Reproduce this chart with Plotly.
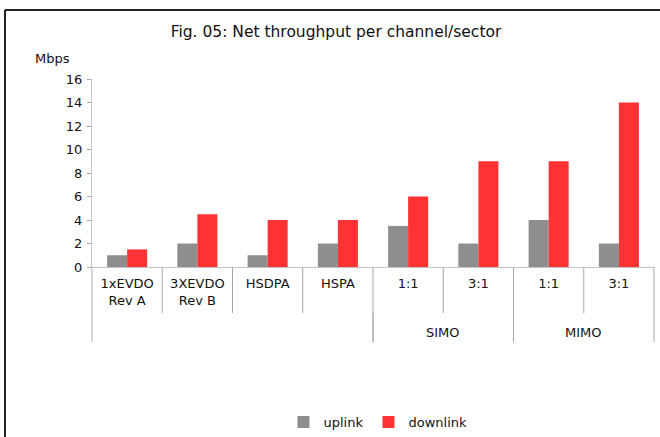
import plotly.graph_objects as go

categories = ["1xEVDO<br>Rev A", "3XEVDO<br>Rev B", "HSDPA", "HSPA", "1:1", "3:1", "1:1", "3:1"]
groups = [("", 0, 4), ("SIMO", 4, 6), ("MIMO", 6, 8)]
uplink = [1, 2, 1, 2, 3.5, 2, 4, 2]
downlink = [1.5, 4.5, 4, 4, 6, 9, 9, 14]
y_ticks = [0, 2, 4, 6, 8, 10, 12, 14, 16]

W, H = 660, 437
L, R, T, B = 92, 654, 79, 267
FONT = "DejaVu Sans, Verdana, sans-serif"

def px_x(p):
    return (p - L) / (R - L)

def px_y(p):
    return (B - p) / (B - T)

xs = list(range(len(categories)))

fig = go.Figure()
fig.add_trace(go.Bar(x=xs, y=uplink, name="uplink", marker=dict(color="#8e8e8e", line=dict(width=0))))
fig.add_trace(go.Bar(x=xs, y=downlink, name="downlink", marker=dict(color="#ff3333", line=dict(width=0))))

n = len(categories)
shapes = []
for i in range(n + 1):
    shapes.append(dict(type="line", xref="paper", yref="paper", x0=i / n, x1=i / n,
                       y0=0, y1=px_y(313), line=dict(color="#a8a8a8", width=1)))
for name, a, b in groups:
    for edge in (a, b):
        shapes.append(dict(type="line", xref="paper", yref="paper", x0=edge / n, x1=edge / n,
                           y0=px_y(313), y1=px_y(342), line=dict(color="#a8a8a8", width=1)))
shapes.append(dict(type="line", xref="paper", yref="paper", x0=px_x(5), x1=px_x(662),
                   y0=px_y(10), y1=px_y(10), line=dict(color="#222222", width=2)))
shapes.append(dict(type="line", xref="paper", yref="paper", x0=px_x(5), x1=px_x(5),
                   y0=px_y(10), y1=px_y(440), line=dict(color="#222222", width=2)))

annotations = []
for name, a, b in groups:
    if name:
        annotations.append(dict(text=name, xref="paper", yref="paper", x=(a + b) / 2 / n,
                                y=px_y(332), showarrow=False, xanchor="center", yanchor="middle",
                                font=dict(size=13, color="#111111", family=FONT)))
annotations.append(dict(text="Mbps", xref="paper", yref="paper", x=px_x(33), y=px_y(59),
                        showarrow=False, xanchor="left", yanchor="middle",
                        font=dict(size=13, color="#111111", family=FONT)))

fig.update_layout(
    width=W, height=H,
    margin=dict(l=L, r=W - R, t=T, b=H - B, autoexpand=False),
    paper_bgcolor="white", plot_bgcolor="white",
    font=dict(family=FONT, size=13, color="#111111"),
    title=dict(text="Fig. 05: Net throughput per channel/sector", x=336 / W,
               xanchor="center", y=1 - 32 / H, yanchor="middle",
               font=dict(size=15.5, color="#111111", family=FONT)),
    barmode="group", bargap=0.43, bargroupgap=0,
    showlegend=True,
    legend=dict(orientation="h", x=px_x(378), xanchor="center", y=px_y(422), yanchor="middle",
                font=dict(size=13, family=FONT), itemwidth=30, traceorder="normal"),
    shapes=shapes, annotations=annotations,
)
fig.update_xaxes(range=[-0.5, n - 0.5], tickvals=xs, ticktext=categories, ticks="",
                 showline=True, linecolor="#c4c4c4", linewidth=1, showgrid=False, zeroline=False,
                 tickfont=dict(size=13, family=FONT, color="#111111"), ticklabelstandoff=4)
fig.update_yaxes(range=[0, 16], tickvals=y_ticks, ticks="outside", ticklen=4, tickcolor="#a8a8a8",
                 showline=True, linecolor="#c4c4c4", linewidth=1, showgrid=False, zeroline=False,
                 tickfont=dict(size=13, family=FONT, color="#111111"), ticklabelstandoff=2)

fig.write_html("out.html", config={"displayModeBar": False},
               post_script="document.body.style.margin='0px';document.body.style.overflow='hidden';")
